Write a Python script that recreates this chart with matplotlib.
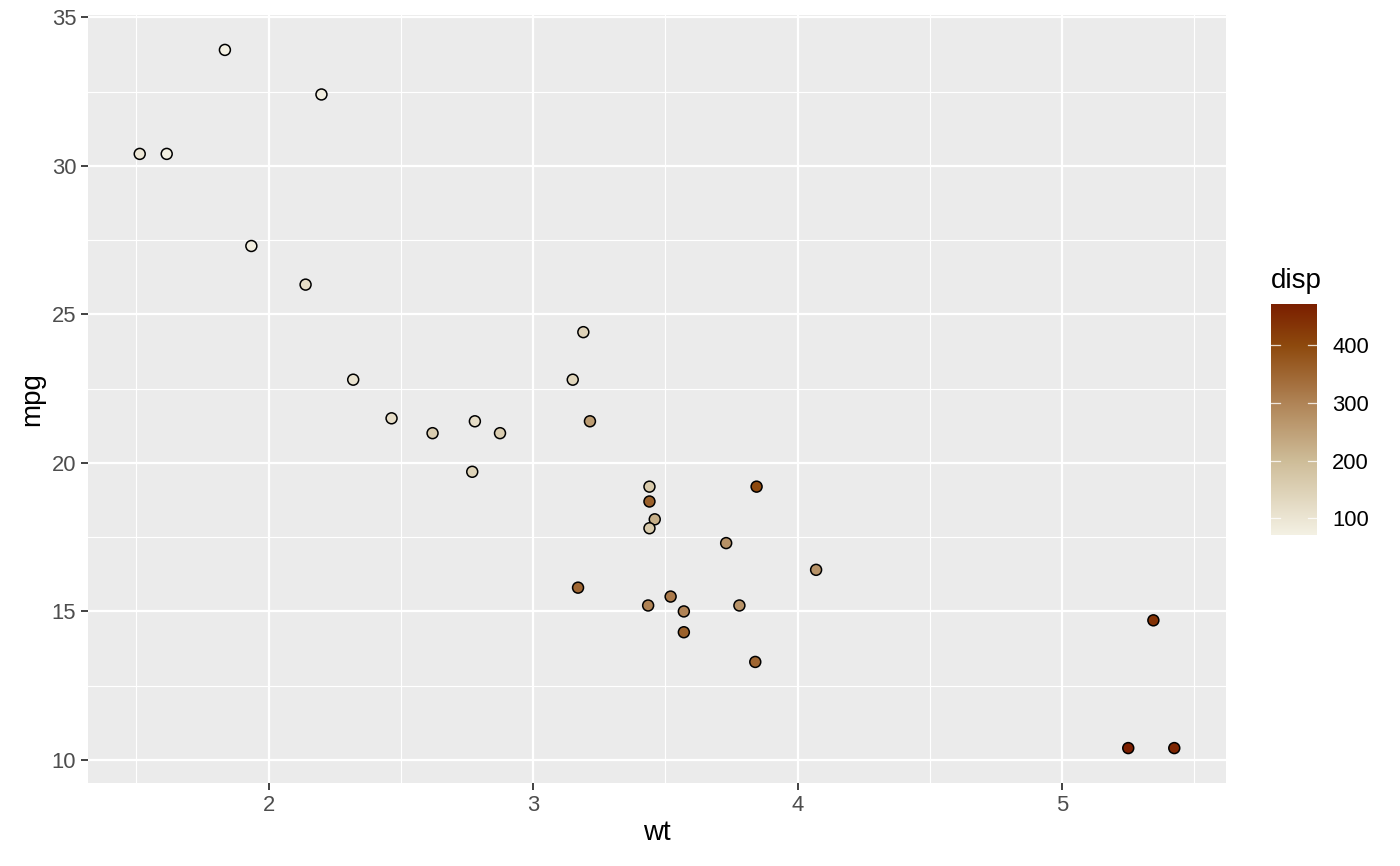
import matplotlib
matplotlib.use("Agg")
import matplotlib.pyplot as plt
import numpy as np
from matplotlib.colors import LinearSegmentedColormap, Normalize
from matplotlib.ticker import MultipleLocator

plt.rcParams['font.family'] = ['Liberation Sans', 'DejaVu Sans']

wt = [2.620, 2.875, 2.320, 3.215, 3.440, 3.460, 3.570, 3.190, 3.150, 3.440, 3.440,
      4.070, 3.730, 3.780, 5.250, 5.424, 5.345, 2.200, 1.615, 1.835, 2.465, 3.520,
      3.435, 3.840, 3.845, 1.935, 2.140, 1.513, 3.170, 2.770, 3.570, 2.780]
mpg = [21.0, 21.0, 22.8, 21.4, 18.7, 18.1, 14.3, 24.4, 22.8, 19.2, 17.8,
       16.4, 17.3, 15.2, 10.4, 10.4, 14.7, 32.4, 30.4, 33.9, 21.5, 15.5,
       15.2, 13.3, 19.2, 27.3, 26.0, 30.4, 15.8, 19.7, 15.0, 21.4]
disp = [160, 160, 108, 258, 360, 225, 360, 146.7, 140.8, 167.6, 167.6,
        275.8, 275.8, 275.8, 472, 460, 440, 78.7, 75.7, 71.1, 120.1, 318,
        304, 350, 400, 79, 120.3, 95.1, 351, 145, 301, 121]

cmap = LinearSegmentedColormap.from_list(
    "disp", [(0.0, "#f4f1e4"), (0.33, "#cdbb96"), (0.57, "#b08457"),
             (0.82, "#8e4a0e"), (1.0, "#7b1f00")])
norm = Normalize(vmin=min(disp), vmax=max(disp))

TICK = 15.8
TITLE = 20

fig = plt.figure(figsize=(14, 8.66), dpi=100)
ax = fig.add_axes([88/1400, 83/866, (1226-88)/1400, (851-83)/866])
ax.set_facecolor("#ebebeb")
for s in ax.spines.values():
    s.set_visible(False)

xr = max(wt) - min(wt)
yr = max(mpg) - min(mpg)
ax.set_xlim(min(wt) - 0.05*xr, max(wt) + 0.05*xr)
ax.set_ylim(min(mpg) - 0.05*yr, max(mpg) + 0.05*yr)
ax.xaxis.set_major_locator(MultipleLocator(1))
ax.xaxis.set_minor_locator(MultipleLocator(0.5))
ax.yaxis.set_major_locator(MultipleLocator(5))
ax.yaxis.set_minor_locator(MultipleLocator(2.5))
ax.grid(which='major', color='white', linewidth=1.6)
ax.grid(which='minor', color='white', linewidth=0.8)
ax.set_axisbelow(True)
ax.tick_params(which='major', length=5, width=1.3, color='#333333',
               labelcolor='#4d4d4d', labelsize=TICK, pad=3.5)
ax.tick_params(which='minor', length=0)

ax.scatter(wt, mpg, c=disp, cmap=cmap, norm=norm, s=62, edgecolors='black',
           linewidths=1.1, zorder=3)
ax.set_xlabel("wt", fontsize=TITLE, labelpad=3)
ax.set_ylabel("mpg", fontsize=TITLE, labelpad=5)

cax = fig.add_axes([1271/1400, (866-535)/866, 46/1400, (535-304)/866])
grad = np.linspace(min(disp), max(disp), 256).reshape(-1, 1)
cax.imshow(grad, aspect='auto', cmap=cmap, norm=norm, origin='lower',
           extent=[0, 1, min(disp), max(disp)])
cax.set_xlim(0, 1)
cax.set_ylim(min(disp), max(disp))
cax.set_xticks([])
cbt = [100, 200, 300, 400]
cax.set_yticks(cbt)
cax.yaxis.tick_right()
cax.tick_params(axis='y', length=0, labelsize=TICK, labelcolor='black', pad=11)
for v in cbt:
    cax.plot([0, 0.2], [v, v], color='white', lw=0.9, alpha=0.8)
    cax.plot([0.8, 1], [v, v], color='white', lw=0.9, alpha=0.8)
for s in cax.spines.values():
    s.set_visible(False)
fig.text(1271/1400, 1 - 281/866, "disp", fontsize=TITLE, va='center', ha='left')

fig.savefig("out.png", dpi=100)
